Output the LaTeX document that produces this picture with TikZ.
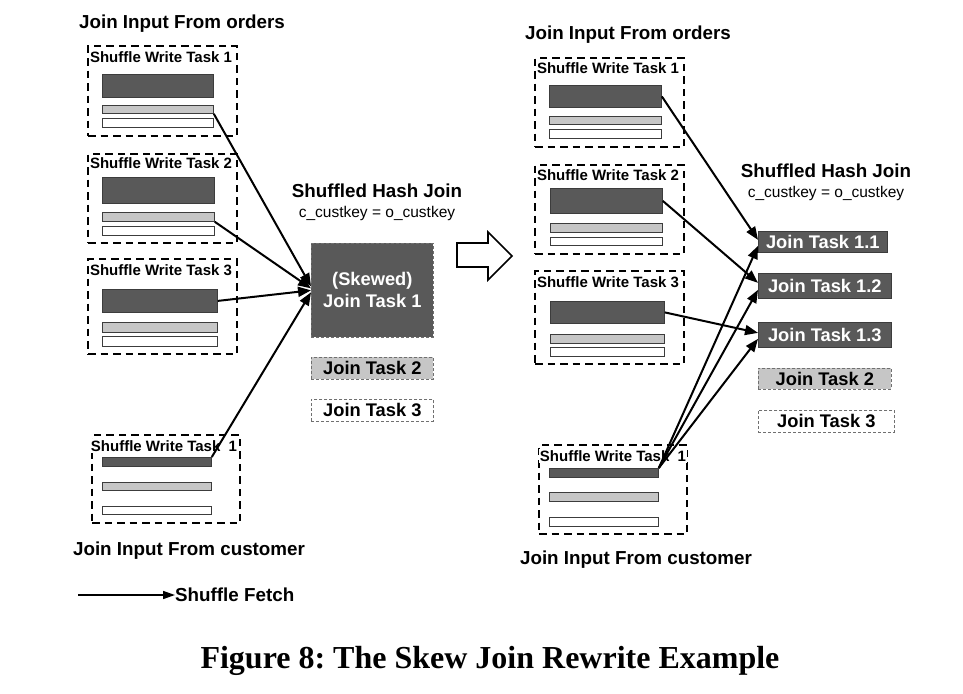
\documentclass[tikz,border=0pt]{standalone}
\usepackage{fontspec}
\setsansfont{Liberation Sans}
\newfontfamily\captionfont{Liberation Serif}
\usetikzlibrary{arrows.meta}

\definecolor{taskdark}{HTML}{595959}
\definecolor{taskgray}{HTML}{C6C6C6}
\definecolor{baredge}{HTML}{3C3C3C}
\definecolor{dashedge}{HTML}{707070}

\tikzset{
  writebox/.style={draw, line width=2.2pt, dash pattern=on 7.5pt off 5pt, anchor=north west, inner sep=0pt},
  writelabel/.style={fill=white, inner sep=1pt, font=\fontsize{15}{18}\selectfont\sffamily\bfseries},
  darkbar/.style={draw=baredge, fill=taskdark, line width=0.8pt, anchor=north west, inner sep=0pt},
  graybar/.style={draw=baredge, fill=taskgray, line width=0.8pt, anchor=north west, inner sep=0pt},
  whitebar/.style={draw=baredge, fill=white, line width=0.8pt, anchor=north west, inner sep=0pt},
  sectitle/.style={inner sep=0pt, font=\fontsize{18.8}{22}\selectfont\sffamily\bfseries},
  joinkey/.style={inner sep=0pt, font=\fontsize{15.5}{18}\selectfont\sffamily},
  jointask/.style={anchor=north west, inner sep=0pt, line width=0.7pt, font=\fontsize{18.3}{22}\selectfont\sffamily\bfseries},
  skewtask/.style={jointask, fill=taskdark, draw=dashedge, densely dashed, text=white, align=center},
  splittask/.style={jointask, fill=taskdark, draw=baredge, text=white},
  graytask/.style={jointask, fill=taskgray, draw=dashedge, densely dashed},
  whitetask/.style={jointask, fill=white, draw=dashedge, densely dashed},
  fetch/.style={line width=2pt, -{Triangle[length=13pt,width=10pt]}},
}

\begin{document}
\frenchspacing
\begin{tikzpicture}[x=1pt, y=-1pt, line join=miter]

  % ════ left: input from orders ════
  \node[sectitle] (lorders) at (182,24) {Join Input From orders};

  \node[writebox, minimum width=149, minimum height=90] (lw1) at (87,45) {};
  \node[darkbar, minimum width=111, minimum height=23] (o1dark) at (102,74) {};
  \node[graybar, minimum width=111, minimum height=8] (o1gray) at (102,105) {};
  \node[whitebar, minimum width=111, minimum height=9] (o1white) at (102,118) {};
  \node[writelabel] (lw1t) at (161,57) {Shuffle Write Task 1};

  \node[writebox, minimum width=149, minimum height=89] (lw2) at (87,153) {};
  \node[darkbar, minimum width=112, minimum height=26] (o2dark) at (102,177) {};
  \node[graybar, minimum width=112, minimum height=9] (o2gray) at (102,212) {};
  \node[whitebar, minimum width=112, minimum height=9] (o2white) at (102,226) {};
  \node[writelabel] (lw2t) at (161,163) {Shuffle Write Task 2};

  \node[writebox, minimum width=149, minimum height=95] (lw3) at (87,258) {};
  \node[darkbar, minimum width=115, minimum height=23] (o3dark) at (102,289) {};
  \node[graybar, minimum width=115, minimum height=10] (o3gray) at (102,322) {};
  \node[whitebar, minimum width=115, minimum height=10] (o3white) at (102,336) {};
  \node[writelabel] (lw3t) at (161,270) {Shuffle Write Task 3};

  % ════ left: input from customer ════
  \node[writebox, minimum width=148, minimum height=88] (lwc) at (91,434) {};
  \node[darkbar, minimum width=109, minimum height=9] (cdark) at (102,457) {};
  \node[graybar, minimum width=109, minimum height=8] (cgray) at (102,482) {};
  \node[whitebar, minimum width=109, minimum height=8] (cwhite) at (102,506) {};
  \node[writelabel] (lwct) at (164,446) {Shuffle Write Task\ \ 1};
  \node[sectitle] (lcust) at (189,551) {Join Input From customer};

  % ════ left: shuffled hash join ════
  \node[sectitle] (lhash) at (377,191) {Shuffled Hash Join};
  \node[joinkey] (lkey) at (377,213) {c\_custkey = o\_custkey};
  \node[skewtask, minimum width=122, minimum height=94] (lj1) at (311,243) {(Skewed)\\Join Task 1};
  \node[graytask, minimum width=122, minimum height=22] (lj2) at (311,357) {Join Task 2};
  \node[whitetask, minimum width=122, minimum height=22] (lj3) at (311,399) {Join Task 3};

  \draw[fetch] (o1gray.south east) -- ([yshift=4]lj1.west);
  \draw[fetch] (o2gray.south east) -- ([yshift=2]lj1.west);
  \draw[fetch] (o3dark.east) -- (lj1.west);
  \draw[fetch] (cdark.north east) -- ([yshift=-2]lj1.west);

  % ════ legend ════
  \coordinate (legstart) at (78,595);
  \node[sectitle, anchor=west] (legtext) at (175,595) {Shuffle Fetch};
  \draw[line width=1.6pt, -{Triangle[length=12pt,width=8pt]}] (legstart) -- (legtext.west);

  % ════ rewrite arrow ════
  \draw[line width=1.6pt] (457,243) -- (488,243) -- (488,232) -- (512,256)
    -- (488,280) -- (488,267) -- (457,267) -- cycle;

  % ════ right: input from orders ════
  \node[sectitle] (rorders) at (628,35) {Join Input From orders};

  \node[writebox, minimum width=149, minimum height=89] (rw1) at (534,57) {};
  \node[darkbar, minimum width=112, minimum height=22] (r1dark) at (549,85) {};
  \node[graybar, minimum width=112, minimum height=8] (r1gray) at (549,116) {};
  \node[whitebar, minimum width=112, minimum height=9] (r1white) at (549,129) {};
  \node[writelabel] (rw1t) at (608,68) {Shuffle Write Task 1};

  \node[writebox, minimum width=149, minimum height=89] (rw2) at (534,164) {};
  \node[darkbar, minimum width=112, minimum height=25] (r2dark) at (550,188) {};
  \node[graybar, minimum width=112, minimum height=9] (r2gray) at (550,223) {};
  \node[whitebar, minimum width=112, minimum height=8] (r2white) at (550,237) {};
  \node[writelabel] (rw2t) at (608,175) {Shuffle Write Task 2};

  \node[writebox, minimum width=149, minimum height=93] (rw3) at (534,270) {};
  \node[darkbar, minimum width=114, minimum height=22] (r3dark) at (550,301) {};
  \node[graybar, minimum width=114, minimum height=9] (r3gray) at (550,334) {};
  \node[whitebar, minimum width=114, minimum height=9] (r3white) at (550,347) {};
  \node[writelabel] (rw3t) at (608,282) {Shuffle Write Task 3};

  % ════ right: input from customer ════
  \node[writebox, minimum width=148, minimum height=89] (rwc) at (538,444) {};
  \node[darkbar, minimum width=109, minimum height=9] (rcdark) at (549,468) {};
  \node[graybar, minimum width=109, minimum height=9] (rcgray) at (549,492) {};
  \node[whitebar, minimum width=109, minimum height=9] (rcwhite) at (549,517) {};
  \node[writelabel] (rwct) at (613,456) {Shuffle Write Task\ \ 1};
  \node[sectitle] (rcust) at (636,560) {Join Input From customer};

  % ════ right: shuffled hash join, split task ════
  \node[sectitle] (rhash) at (826,171) {Shuffled Hash Join};
  \node[joinkey] (rkey) at (826,193) {c\_custkey = o\_custkey};
  \node[splittask, minimum width=129, minimum height=21] (rj11) at (758,231) {Join Task 1.1};
  \node[splittask, minimum width=133, minimum height=25] (rj12) at (758,273) {Join Task 1.2};
  \node[splittask, minimum width=133, minimum height=25] (rj13) at (758,322) {Join Task 1.3};
  \node[graytask, minimum width=133, minimum height=21] (rj2) at (758,368) {Join Task 2};
  \node[whitetask, minimum width=136, minimum height=22] (rj3) at (758,410) {Join Task 3};

  \draw[fetch] (r1dark.east) -- ([yshift=2]rj11.west);
  \draw[fetch] (r2dark.east) -- ([yshift=3]rj12.west);
  \draw[fetch] (r3dark.east) -- ([yshift=2]rj13.west);
  \foreach \t in {rj11,rj12,rj13}
    \draw[fetch] (rcdark.north east) -- ([yshift=-4]\t.west);

  % ════ caption ════
  \node[inner sep=0pt, font=\fontsize{32}{36}\selectfont\captionfont\bfseries] (caption) at (490,661) {Figure 8: The Skew Join Rewrite Example};

  \path[use as bounding box] (0,0) rectangle (963,693);
\end{tikzpicture}
\end{document}
